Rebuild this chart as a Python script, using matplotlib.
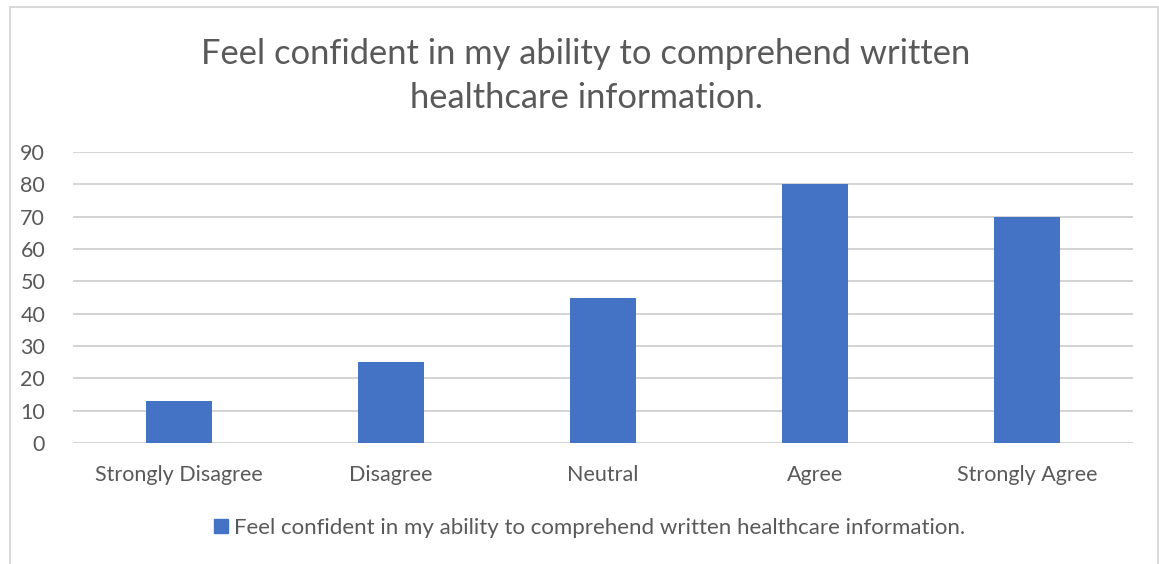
import matplotlib.pyplot as plt
from matplotlib.patches import Rectangle, Patch

# data
categories = ["Strongly Disagree", "Disagree", "Neutral", "Agree", "Strongly Agree"]
values = [13, 25, 45, 80, 70]
series_name = "Feel confident in my ability to comprehend written healthcare information."
title = "Feel confident in my ability to comprehend written\nhealthcare information."

plt.rcParams['font.family'] = ['Lato', 'DejaVu Sans']
text_color = "#595959"
bar_color = "#4472C4"

fig = plt.figure(figsize=(11.59, 5.64), dpi=100)
ax = fig.add_axes([73 / 1159, 1 - 443 / 564, 1060 / 1159, 291 / 564])

# chart frame
fig.patches.append(Rectangle((10 / 1159, -0.05), 1148 / 1159, 1 - 7 / 564 + 0.05,
                             transform=fig.transFigure, fill=False,
                             edgecolor="#d9d9d9", linewidth=1.5))

x = range(len(categories))
ax.bar(x, values, width=0.31, color=bar_color, zorder=3)
ax.set_xlim(-0.5, len(categories) - 0.5)
ax.set_ylim(0, 90)
ax.set_yticks(range(0, 91, 10))
ax.set_xticks(list(x))
ax.set_xticklabels(categories)
ax.grid(axis="y", color="#d0d0d0", linewidth=1.3, zorder=0)
for s in ax.spines.values():
    s.set_visible(False)
ax.tick_params(axis="both", length=0, labelsize=15.5, labelcolor=text_color)
ax.tick_params(axis="y", pad=20)
ax.tick_params(axis="x", pad=16)

fig.text(586 / 1159, 1 - 76 / 564, title, ha="center", va="center",
         fontsize=24.8, color=text_color, linespacing=1.5)

fig.legend(handles=[Patch(color=bar_color, label=series_name)],
           loc="center", bbox_to_anchor=(590 / 1159, 1 - 528 / 564),
           frameon=False, fontsize=16, labelcolor=text_color,
           handlelength=0.6, handleheight=0.6, handletextpad=0.3)

fig.savefig("out.png", dpi=100)
